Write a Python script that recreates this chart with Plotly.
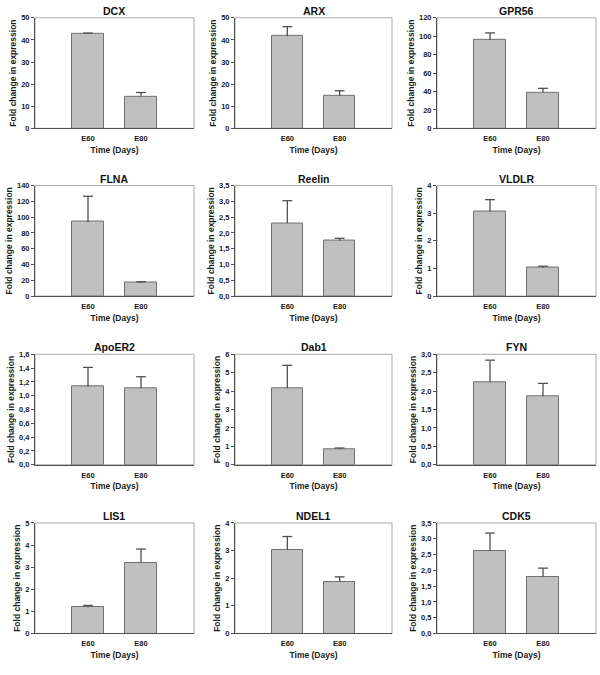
import plotly.graph_objects as go

genes = ["DCX", "ARX", "GPR56", "FLNA", "Reelin", "VLDLR",
         "ApoER2", "Dab1", "FYN", "LIS1", "NDEL1", "CDK5"]
time_points = ["E60", "E80"]
means = [
    [42.8, 14.4],   # DCX
    [41.7, 14.6],   # ARX
    [96.0, 39.0],   # GPR56
    [93.9, 16.8],   # FLNA
    [2.31, 1.75],   # Reelin
    [3.05, 1.02],   # VLDLR
    [1.13, 1.105],  # ApoER2
    [4.15, 0.86],   # Dab1
    [2.24, 1.86],   # FYN
    [1.19, 3.21],   # LIS1
    [3.02, 1.87],   # NDEL1
    [2.62, 1.80],   # CDK5
]
errors = [
    [0.3, 1.8],
    [4.3, 2.4],
    [7.6, 4.4],
    [32.5, 1.4],
    [0.71, 0.08],
    [0.44, 0.06],
    [0.28, 0.17],
    [1.25, 0.05],
    [0.60, 0.35],
    [0.08, 0.61],
    [0.49, 0.18],
    [0.56, 0.27],
]
y_max = [50, 50, 120, 140, 3.5, 4, 1.6, 6, 3.0, 5, 4, 3.5]
y_step = [10, 10, 20, 20, 0.5, 1, 0.2, 1, 0.5, 1, 1, 0.5]
y_fmt = ["d", "d", "d", "d", ".1f", "d", ".1f", "d", ".1f", "d", "d", ".1f"]

W, H = 600, 675
col_px = [(35, 194), (235, 392), (437, 596)]
row_px = [(14, 126), (184, 296), (355, 467), (526, 638)]

FONT = "Liberation Sans, Arial, sans-serif"
TXT = "#1a1a1a"
fig = go.Figure()
shapes = []
annotations = []

for i, g in enumerate(genes):
    r, c = divmod(i, 3)
    n = i + 1
    xa = "x" if n == 1 else f"x{n}"
    ya = "y" if n == 1 else f"y{n}"
    fig.add_trace(go.Bar(
        x=[0, 1], y=means[i], width=0.6,
        marker=dict(color="#c0c0c0", line=dict(color="#707070", width=1)),
        error_y=dict(type="data", array=errors[i], arrayminus=[0, 0], symmetric=False,
                     color="#505050", thickness=1.3, width=0),
        xaxis=xa, yaxis=ya, showlegend=False, hoverinfo="skip",
    ))
    tops = [m + e for m, e in zip(means[i], errors[i])]
    fig.add_trace(go.Scatter(
        x=[0, 1], y=tops, mode="markers",
        marker=dict(symbol="line-ew", size=7, line=dict(color="#505050", width=1.3)),
        xaxis=xa, yaxis=ya, showlegend=False, hoverinfo="skip", cliponaxis=False,
    ))
    x0, x1 = col_px[c]
    y0, y1 = row_px[r]
    nticks = int(round(y_max[i] / y_step[i]))
    tv = [k * y_step[i] for k in range(nticks + 1)]
    fig.layout[f"xaxis{'' if n == 1 else n}"] = dict(
        domain=[x0 / W, x1 / W], anchor=ya, range=[-1, 2],
        tickvals=[0, 1], ticktext=time_points, showgrid=False, zeroline=False,
        showline=True, linecolor="#505050", linewidth=1,
        ticks="outside", ticklen=3, tickcolor="rgba(0,0,0,0)",
        tickfont=dict(family=FONT, size=7.5, color=TXT, weight="bold"),
        title=dict(text="Time (Days)", font=dict(family=FONT, size=8.5, color=TXT, weight="bold"), standoff=4),
        fixedrange=True,
    )
    fig.layout[f"yaxis{'' if n == 1 else n}"] = dict(
        domain=[1 - y1 / H, 1 - y0 / H], anchor=xa, range=[0, y_max[i]],
        tickvals=tv, tickformat=y_fmt[i], showgrid=False, zeroline=False,
        showline=True, linecolor="#505050", linewidth=1,
        ticks="outside", ticklen=3, tickcolor="#505050",
        tickfont=dict(family=FONT, size=7.5, color=TXT, weight="bold"),
        title=dict(text="Fold change in expression", font=dict(family=FONT, size=8.5, color=TXT, weight="bold"), standoff=3),
        fixedrange=True,
    )
    shapes.append(dict(type="rect", xref=f"{xa} domain", yref=f"{ya} domain",
                       x0=0, x1=1, y0=0, y1=1, line=dict(color="#a8a8a8", width=1), layer="below"))
    annotations.append(dict(text=g, xref=f"{xa} domain", yref=f"{ya} domain",
                            x=0.5, y=1, yshift=-1, xanchor="center", yanchor="bottom", showarrow=False,
                            font=dict(family=FONT, size=10.5, color="#111", weight="bold")))

fig.update_layout(
    width=W, height=H, margin=dict(l=0, r=0, t=0, b=0),
    paper_bgcolor="white", plot_bgcolor="white",
    separators=",.", shapes=shapes, annotations=annotations,
    bargap=0,
)
fig.write_html("out.html", config={"displayModeBar": False},
               post_script="document.body.style.margin='0';document.body.style.overflow='hidden';")
